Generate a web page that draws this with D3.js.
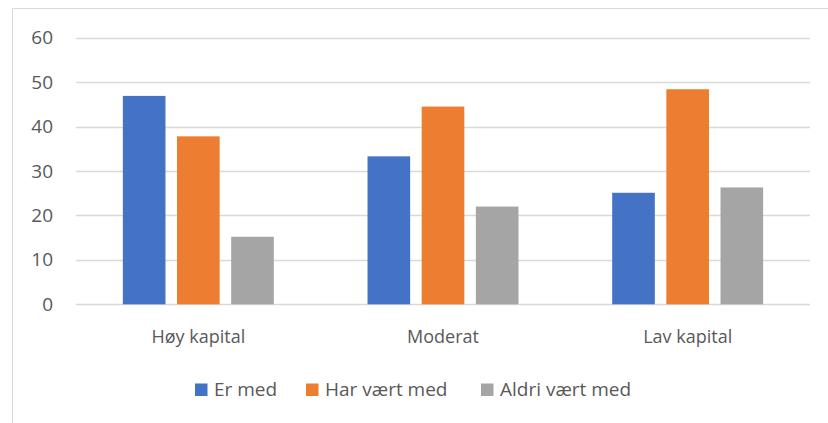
<!DOCTYPE html>
<html>
<head>
<meta charset="utf-8">
<script src="https://cdn.jsdelivr.net/npm/d3@7"></script>
<style>
  body { margin: 0; background: #fff; }
  text { font-family: "Open Sans", "Noto Sans", sans-serif; fill: #595959; }
</style>
</head>
<body>
<div id="chart"></div>
<script>
const categories = ["Høy kapital", "Moderat", "Lav kapital"]
const series = ["Er med", "Har vært med", "Aldri vært med"]
const erMed = [46.9, 33.3, 25.1]
const harVaertMed = [37.8, 44.5, 48.4]
const aldriVaertMed = [15.2, 22.0, 26.3]
const yTicks = [0, 10, 20, 30, 40, 50, 60]

const colors = ["#4472C4", "#ED7D31", "#A5A5A5"]

const drawChart = () => {
  const width = 828
  const height = 423
  const values = [erMed, harVaertMed, aldriVaertMed]

  const svg = d3.select("#chart")
    .append("svg")
      .attr("width", width)
      .attr("height", height)

  // chart frame (left + top edge visible)
  svg.append("path")
    .attr("d", `M12.5,${height} V8.5 H${width}`)
    .attr("fill", "none")
    .attr("stroke", "#d9d9d9")

  const x0 = d3.scaleBand()
    .domain(categories)
    .range([76, 810])
    .paddingInner(0.383)
    .paddingOuter(0.1915)

  const x1 = d3.scaleBand()
    .domain(series)
    .range([0, x0.bandwidth()])
    .paddingInner(0.213)

  const y = d3.scaleLinear()
    .domain([0, 60])
    .range([304.3, 37.7])

  // gridlines
  svg.append("g")
    .selectAll("line")
    .data(yTicks)
    .join("line")
      .attr("x1", 76)
      .attr("x2", 810)
      .attr("y1", d => Math.round(y(d)) + 0.5)
      .attr("y2", d => Math.round(y(d)) + 0.5)
      .attr("stroke", "#d9d9d9")
      .attr("stroke-width", 1.3)

  // y labels
  svg.append("g")
    .selectAll("text")
    .data(yTicks)
    .join("text")
      .attr("x", 53)
      .attr("y", d => y(d) + 6.5)
      .attr("text-anchor", "end")
      .attr("font-size", 19)
      .text(d => d)

  // bars
  const groups = svg.append("g")
    .selectAll("g")
    .data(categories)
    .join("g")
      .attr("transform", d => `translate(${x0(d)},0)`)

  groups.selectAll("rect")
    .data((c, i) => series.map((s, j) => ({ s, j, v: values[j][i] })))
    .join("rect")
      .attr("x", d => x1(d.s))
      .attr("width", x1.bandwidth())
      .attr("y", d => y(d.v))
      .attr("height", d => y(0) - y(d.v))
      .attr("fill", d => colors[d.j])

  // x labels
  svg.append("g")
    .selectAll("text")
    .data(categories)
    .join("text")
      .attr("x", d => x0(d) + x0.bandwidth() / 2)
      .attr("y", 342.5)
      .attr("text-anchor", "middle")
      .attr("font-size", 18)
      .text(d => d)

  // legend
  const legendX = [195, 306, 481]
  const legend = svg.append("g")
    .selectAll("g")
    .data(series)
    .join("g")
      .attr("transform", (d, i) => `translate(${legendX[i]},383.5)`)
  legend.append("rect")
    .attr("width", 12.5)
    .attr("height", 12.5)
    .attr("fill", (d, i) => colors[i])
  legend.append("text")
    .attr("x", 19)
    .attr("y", 12)
    .attr("font-size", 19)
    .text(d => d)
}

drawChart()
</script>
</body>
</html>
